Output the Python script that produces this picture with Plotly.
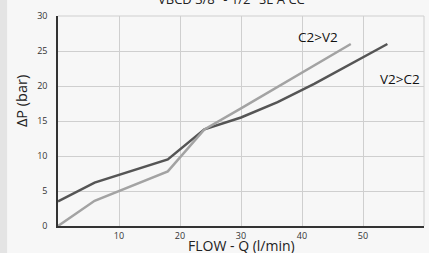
import plotly.graph_objects as go

# Data
flow_v2c2 = [0, 6, 18, 24, 30, 36, 42, 48, 54]
dp_v2c2 = [3.5, 6.2, 9.5, 13.8, 15.5, 17.7, 20.3, 23.2, 26.0]

flow_c2v2 = [0, 6, 18, 24, 30, 36, 42, 48]
dp_c2v2 = [0.0, 3.6, 7.8, 13.8, 16.8, 19.9, 22.9, 26.0]

x_ticks = [10, 20, 30, 40, 50, 60]
y_ticks = [0, 5, 10, 15, 20, 25, 30]

title_text = 'VBCD 3/8" - 1/2" SE A CC'
x_title = "FLOW - Q (l/min)"
y_title = "ΔP (bar)"
label_c2v2 = "C2>V2"
label_v2c2 = "V2>C2"

FONT = "Open Sans"

fig = go.Figure()
fig.add_trace(go.Scatter(x=flow_v2c2, y=dp_v2c2, mode="lines",
                         line=dict(color="#555555", width=2.5), cliponaxis=False,
                         showlegend=False, hoverinfo="skip"))
fig.add_trace(go.Scatter(x=flow_c2v2, y=dp_c2v2, mode="lines",
                         line=dict(color="#a3a3a3", width=2.5), cliponaxis=False,
                         showlegend=False, hoverinfo="skip"))

fig.add_annotation(x=42.6, y=27.0, text=label_c2v2, showarrow=False,
                   font=dict(family=FONT, size=13.5, color="#111111"))
fig.add_annotation(x=56.0, y=21.0, text=label_v2c2, showarrow=False,
                   font=dict(family=FONT, size=13.5, color="#111111"))

# title (partly cut at the top, as in the reference)
fig.add_annotation(xref="paper", yref="paper", x=0.475, y=1.0, yshift=6,
                   text=title_text, showarrow=False, xanchor="center", yanchor="bottom",
                   font=dict(family=FONT, size=13, color="#222222"))
# axis titles
fig.add_annotation(xref="paper", yref="paper", x=0.5, y=0, yshift=-19,
                   text=x_title, showarrow=False, xanchor="center", yanchor="middle",
                   font=dict(family=FONT, size=14, color="#222222"))
fig.add_annotation(xref="paper", yref="paper", x=0, xshift=-37, y=0.595,
                   text=y_title, showarrow=False, textangle=-90,
                   xanchor="center", yanchor="middle",
                   font=dict(family=FONT, size=14.5, color="#222222"))

# left grey strip of the background
fig.add_shape(type="rect", xref="paper", yref="paper", x0=-0.16, x1=-0.139,
              y0=-0.2, y1=1.1, fillcolor="#e4e4e4", line=dict(width=0), layer="below")
# right and top frame lines (light grey)
fig.add_shape(type="line", xref="paper", yref="paper", x0=1, x1=1, y0=0, y1=1,
              line=dict(color="#cfcfcf", width=1), layer="below")
fig.add_shape(type="line", xref="paper", yref="paper", x0=0, x1=1, y0=1, y1=1,
              line=dict(color="#cfcfcf", width=1), layer="below")

fig.update_layout(
    width=429, height=253,
    margin=dict(l=58, r=5, t=16, b=27, autoexpand=False),
    paper_bgcolor="#f7f7f7",
    plot_bgcolor="rgba(0,0,0,0)",
    font=dict(family=FONT, size=9, color="#333333"),
    xaxis=dict(range=[0, 60], tickvals=x_ticks, ticktext=[str(v) for v in x_ticks],
               showgrid=True, gridcolor="#cfcfcf", gridwidth=1,
               showline=True, linecolor="#333333", linewidth=1.5,
               zeroline=False, ticks="", ticklen=0, automargin=False,
               tickfont=dict(size=9, color="#333333")),
    yaxis=dict(range=[0, 30], tickvals=y_ticks, ticktext=[str(v) for v in y_ticks],
               showgrid=True, gridcolor="#cfcfcf", gridwidth=1,
               showline=True, linecolor="#333333", linewidth=1.5,
               zeroline=False, ticks="", ticklen=0, ticklabelstandoff=7, automargin=False,
               tickfont=dict(size=9, color="#333333")),
)

fig.write_html("out.html", config={"displayModeBar": False},
               post_script="document.body.style.margin='0';document.body.style.overflow='hidden';")
